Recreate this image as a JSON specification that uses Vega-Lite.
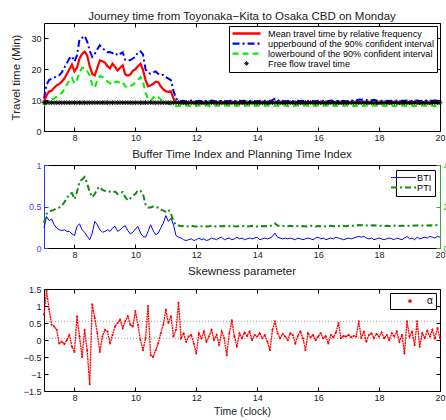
{
  "$schema": "https://vega.github.io/schema/vega-lite/v6.json",
  "padding": {"left": 10, "top": 10, "right": 0, "bottom": 0},
  "spacing": 5,
  "resolve": {"scale": {"color": "independent"}, "legend": {"color": "independent"}},
  "config": {
    "font": "Liberation Sans",
    "view": {"stroke": "#000", "strokeWidth": 1},
    "axis": {"grid": false, "domain": false, "tickColor": "#000", "tickSize": -4, "labelPadding": 7, "labelFontSize": 9, "labelColor": "#222", "titleFontSize": 10.5, "titleFontWeight": "normal", "titleColor": "#222", "labelFlush": false, "labelOverlap": false},
    "title": {"fontSize": 11.5, "fontWeight": "normal", "color": "#222", "offset": 2},
    "legend": {"title": null, "strokeColor": "#000", "fillColor": "#fff", "labelFontSize": 9.1, "labelLimit": 400, "labelColor": "#000", "orient": "top-right"}
  },
  "datasets": {
    "main": [
      {"t":7.000,"mean":9.5,"upper":10.5,"lower":8.3,"free":9.2,"bti":0.24,"pti":1.20,"alpha":0.75},
      {"t":7.083,"mean":11.5,"upper":15.0,"lower":9.0,"free":9.2,"bti":0.38,"pti":1.65,"alpha":1.45},
      {"t":7.167,"mean":12.8,"upper":16.5,"lower":9.8,"free":9.2,"bti":0.33,"pti":1.75,"alpha":0.90},
      {"t":7.250,"mean":13.0,"upper":17.0,"lower":10.2,"free":9.2,"bti":0.35,"pti":1.80,"alpha":0.45},
      {"t":7.333,"mean":14.0,"upper":17.3,"lower":10.5,"free":9.2,"bti":0.28,"pti":1.85,"alpha":0.40},
      {"t":7.417,"mean":14.8,"upper":17.8,"lower":11.2,"free":9.2,"bti":0.24,"pti":1.90,"alpha":0.30},
      {"t":7.500,"mean":15.2,"upper":18.0,"lower":11.8,"free":9.2,"bti":0.22,"pti":1.95,"alpha":-0.10},
      {"t":7.583,"mean":16.0,"upper":19.0,"lower":12.3,"free":9.2,"bti":0.21,"pti":2.05,"alpha":-0.05},
      {"t":7.667,"mean":17.0,"upper":20.5,"lower":13.5,"free":9.2,"bti":0.22,"pti":2.20,"alpha":-0.12},
      {"t":7.750,"mean":18.5,"upper":22.0,"lower":15.0,"free":9.2,"bti":0.20,"pti":2.40,"alpha":0.00},
      {"t":7.833,"mean":20.0,"upper":23.5,"lower":16.5,"free":9.2,"bti":0.20,"pti":2.60,"alpha":0.15},
      {"t":7.917,"mean":21.5,"upper":24.2,"lower":17.2,"free":9.2,"bti":0.17,"pti":2.65,"alpha":-0.20},
      {"t":8.000,"mean":19.3,"upper":22.5,"lower":15.4,"free":9.2,"bti":0.15,"pti":2.35,"alpha":-0.35},
      {"t":8.083,"mean":20.5,"upper":24.5,"lower":16.5,"free":9.2,"bti":0.26,"pti":2.70,"alpha":0.70},
      {"t":8.167,"mean":23.5,"upper":29.8,"lower":19.0,"free":9.2,"bti":0.29,"pti":3.20,"alpha":0.10},
      {"t":8.250,"mean":25.0,"upper":30.2,"lower":20.5,"free":9.2,"bti":0.22,"pti":3.30,"alpha":-0.50},
      {"t":8.333,"mean":25.7,"upper":30.8,"lower":20.3,"free":9.2,"bti":0.19,"pti":3.42,"alpha":0.30},
      {"t":8.417,"mean":24.5,"upper":29.0,"lower":19.5,"free":9.2,"bti":0.14,"pti":3.10,"alpha":-0.30},
      {"t":8.500,"mean":21.0,"upper":26.0,"lower":18.0,"free":9.2,"bti":0.10,"pti":2.70,"alpha":-1.30},
      {"t":8.583,"mean":18.5,"upper":24.0,"lower":15.0,"free":9.2,"bti":0.18,"pti":2.45,"alpha":1.05},
      {"t":8.667,"mean":18.0,"upper":25.0,"lower":14.0,"free":9.2,"bti":0.32,"pti":2.60,"alpha":0.65},
      {"t":8.750,"mean":20.5,"upper":26.5,"lower":16.5,"free":9.2,"bti":0.28,"pti":2.85,"alpha":0.20},
      {"t":8.833,"mean":22.9,"upper":27.8,"lower":17.8,"free":9.2,"bti":0.22,"pti":2.95,"alpha":-0.35},
      {"t":8.917,"mean":22.6,"upper":26.8,"lower":17.5,"free":9.2,"bti":0.19,"pti":2.80,"alpha":0.10},
      {"t":9.000,"mean":22.2,"upper":26.2,"lower":17.0,"free":9.2,"bti":0.20,"pti":2.75,"alpha":0.30},
      {"t":9.083,"mean":21.0,"upper":25.5,"lower":16.0,"free":9.2,"bti":0.22,"pti":2.70,"alpha":0.25},
      {"t":9.167,"mean":20.3,"upper":25.6,"lower":15.5,"free":9.2,"bti":0.20,"pti":2.72,"alpha":-0.10},
      {"t":9.250,"mean":21.8,"upper":25.2,"lower":15.0,"free":9.2,"bti":0.24,"pti":2.68,"alpha":0.15},
      {"t":9.333,"mean":20.8,"upper":25.4,"lower":15.8,"free":9.2,"bti":0.26,"pti":2.72,"alpha":0.40},
      {"t":9.417,"mean":19.6,"upper":24.5,"lower":16.0,"free":9.2,"bti":0.20,"pti":2.60,"alpha":0.50},
      {"t":9.500,"mean":20.5,"upper":25.0,"lower":15.5,"free":9.2,"bti":0.22,"pti":2.65,"alpha":0.60},
      {"t":9.583,"mean":21.3,"upper":25.5,"lower":15.8,"free":9.2,"bti":0.25,"pti":2.70,"alpha":0.35},
      {"t":9.667,"mean":18.3,"upper":23.0,"lower":14.5,"free":9.2,"bti":0.27,"pti":2.45,"alpha":0.55},
      {"t":9.750,"mean":18.0,"upper":22.8,"lower":14.0,"free":9.2,"bti":0.21,"pti":2.30,"alpha":0.70},
      {"t":9.833,"mean":18.3,"upper":23.0,"lower":14.5,"free":9.2,"bti":0.17,"pti":2.40,"alpha":0.45},
      {"t":9.917,"mean":19.5,"upper":23.5,"lower":15.0,"free":9.2,"bti":0.19,"pti":2.50,"alpha":0.40},
      {"t":10.000,"mean":20.0,"upper":24.0,"lower":15.8,"free":9.2,"bti":0.23,"pti":2.60,"alpha":0.85},
      {"t":10.083,"mean":21.0,"upper":25.6,"lower":16.5,"free":9.2,"bti":0.26,"pti":2.78,"alpha":0.45},
      {"t":10.167,"mean":21.8,"upper":25.8,"lower":17.5,"free":9.2,"bti":0.18,"pti":2.75,"alpha":0.00},
      {"t":10.250,"mean":19.8,"upper":24.8,"lower":16.0,"free":9.2,"bti":0.14,"pti":2.60,"alpha":-0.30},
      {"t":10.333,"mean":16.5,"upper":20.0,"lower":12.3,"free":9.2,"bti":0.13,"pti":2.10,"alpha":0.05},
      {"t":10.417,"mean":14.5,"upper":18.8,"lower":10.5,"free":9.2,"bti":0.20,"pti":1.95,"alpha":1.00},
      {"t":10.500,"mean":14.8,"upper":18.6,"lower":9.8,"free":9.2,"bti":0.28,"pti":1.95,"alpha":-0.45},
      {"t":10.583,"mean":15.2,"upper":19.0,"lower":10.8,"free":9.2,"bti":0.21,"pti":2.00,"alpha":-0.50},
      {"t":10.667,"mean":16.0,"upper":19.3,"lower":11.5,"free":9.2,"bti":0.16,"pti":1.95,"alpha":-0.30},
      {"t":10.750,"mean":15.8,"upper":18.5,"lower":11.0,"free":9.2,"bti":0.18,"pti":1.95,"alpha":-0.10},
      {"t":10.833,"mean":14.5,"upper":18.0,"lower":10.2,"free":9.2,"bti":0.24,"pti":1.85,"alpha":0.20},
      {"t":10.917,"mean":13.5,"upper":18.2,"lower":9.8,"free":9.2,"bti":0.30,"pti":1.80,"alpha":0.45},
      {"t":11.000,"mean":12.9,"upper":17.5,"lower":9.2,"free":9.2,"bti":0.39,"pti":1.75,"alpha":0.90},
      {"t":11.083,"mean":12.7,"upper":17.0,"lower":8.8,"free":9.2,"bti":0.32,"pti":1.85,"alpha":0.50},
      {"t":11.167,"mean":12.9,"upper":16.5,"lower":8.6,"free":9.2,"bti":0.36,"pti":1.65,"alpha":0.70},
      {"t":11.250,"mean":10.5,"upper":13.0,"lower":8.3,"free":9.2,"bti":0.28,"pti":1.30,"alpha":0.10},
      {"t":11.333,"mean":9.2,"upper":10.5,"lower":8.0,"free":9.2,"bti":0.15,"pti":1.10,"alpha":0.30},
      {"t":11.417,"mean":9.1,"upper":9.9,"lower":8.1,"free":9.2,"bti":0.13,"pti":1.08,"alpha":1.10},
      {"t":11.500,"mean":9.0,"upper":9.7,"lower":8.2,"free":9.2,"bti":0.12,"pti":1.05,"alpha":0.05},
      {"t":11.583,"mean":9.1,"upper":9.8,"lower":8.1,"free":9.2,"bti":0.10,"pti":1.06,"alpha":0.20},
      {"t":11.667,"mean":8.9,"upper":9.6,"lower":8.3,"free":9.2,"bti":0.09,"pti":1.04,"alpha":-0.05},
      {"t":11.750,"mean":9.0,"upper":9.7,"lower":8.2,"free":9.2,"bti":0.10,"pti":1.05,"alpha":0.10},
      {"t":11.833,"mean":9.2,"upper":9.9,"lower":8.0,"free":9.2,"bti":0.11,"pti":1.07,"alpha":0.15},
      {"t":11.917,"mean":9.0,"upper":9.7,"lower":8.2,"free":9.2,"bti":0.09,"pti":1.05,"alpha":-0.10},
      {"t":12.000,"mean":8.9,"upper":9.6,"lower":8.1,"free":9.2,"bti":0.10,"pti":1.04,"alpha":-0.40},
      {"t":12.083,"mean":9.1,"upper":9.8,"lower":8.3,"free":9.2,"bti":0.12,"pti":1.06,"alpha":0.20},
      {"t":12.167,"mean":9.0,"upper":9.7,"lower":8.2,"free":9.2,"bti":0.10,"pti":1.05,"alpha":0.05},
      {"t":12.250,"mean":9.1,"upper":9.8,"lower":8.1,"free":9.2,"bti":0.11,"pti":1.06,"alpha":0.25},
      {"t":12.333,"mean":8.9,"upper":9.6,"lower":8.3,"free":9.2,"bti":0.09,"pti":1.04,"alpha":-0.05},
      {"t":12.417,"mean":9.0,"upper":9.7,"lower":8.2,"free":9.2,"bti":0.10,"pti":1.05,"alpha":0.10},
      {"t":12.500,"mean":9.2,"upper":9.9,"lower":8.0,"free":9.2,"bti":0.12,"pti":1.07,"alpha":0.30},
      {"t":12.583,"mean":9.0,"upper":9.7,"lower":8.2,"free":9.2,"bti":0.11,"pti":1.05,"alpha":0.00},
      {"t":12.667,"mean":8.9,"upper":9.6,"lower":8.1,"free":9.2,"bti":0.10,"pti":1.04,"alpha":0.15},
      {"t":12.750,"mean":9.1,"upper":9.8,"lower":8.3,"free":9.2,"bti":0.12,"pti":1.06,"alpha":-0.15},
      {"t":12.833,"mean":9.0,"upper":9.7,"lower":8.2,"free":9.2,"bti":0.13,"pti":1.05,"alpha":0.25},
      {"t":12.917,"mean":9.1,"upper":9.8,"lower":8.1,"free":9.2,"bti":0.10,"pti":1.06,"alpha":0.05},
      {"t":13.000,"mean":8.9,"upper":9.6,"lower":8.3,"free":9.2,"bti":0.11,"pti":1.04,"alpha":-0.45},
      {"t":13.083,"mean":9.0,"upper":9.7,"lower":8.2,"free":9.2,"bti":0.12,"pti":1.05,"alpha":0.20},
      {"t":13.167,"mean":9.2,"upper":9.9,"lower":8.0,"free":9.2,"bti":0.10,"pti":1.07,"alpha":0.58},
      {"t":13.250,"mean":9.0,"upper":9.7,"lower":8.2,"free":9.2,"bti":0.11,"pti":1.05,"alpha":0.10},
      {"t":13.333,"mean":8.9,"upper":9.6,"lower":8.1,"free":9.2,"bti":0.13,"pti":1.04,"alpha":-0.20},
      {"t":13.417,"mean":9.1,"upper":9.8,"lower":8.3,"free":9.2,"bti":0.11,"pti":1.06,"alpha":0.20},
      {"t":13.500,"mean":9.0,"upper":9.7,"lower":8.2,"free":9.2,"bti":0.12,"pti":1.05,"alpha":0.05},
      {"t":13.583,"mean":9.1,"upper":9.8,"lower":8.1,"free":9.2,"bti":0.10,"pti":1.06,"alpha":0.22},
      {"t":13.667,"mean":8.9,"upper":9.6,"lower":8.3,"free":9.2,"bti":0.11,"pti":1.04,"alpha":0.12},
      {"t":13.750,"mean":9.0,"upper":9.7,"lower":8.2,"free":9.2,"bti":0.12,"pti":1.05,"alpha":0.25},
      {"t":13.833,"mean":9.2,"upper":9.9,"lower":8.0,"free":9.2,"bti":0.11,"pti":1.07,"alpha":0.00},
      {"t":13.917,"mean":9.0,"upper":9.7,"lower":8.2,"free":9.2,"bti":0.12,"pti":1.05,"alpha":0.15},
      {"t":14.000,"mean":8.9,"upper":9.6,"lower":8.1,"free":9.2,"bti":0.13,"pti":1.04,"alpha":0.10},
      {"t":14.083,"mean":9.1,"upper":9.8,"lower":8.3,"free":9.2,"bti":0.10,"pti":1.06,"alpha":0.20},
      {"t":14.167,"mean":9.0,"upper":9.7,"lower":8.2,"free":9.2,"bti":0.11,"pti":1.05,"alpha":0.05},
      {"t":14.250,"mean":9.1,"upper":9.8,"lower":8.1,"free":9.2,"bti":0.12,"pti":1.06,"alpha":0.15},
      {"t":14.333,"mean":8.9,"upper":9.6,"lower":8.3,"free":9.2,"bti":0.11,"pti":1.04,"alpha":-0.05},
      {"t":14.417,"mean":9.0,"upper":9.8,"lower":8.2,"free":9.2,"bti":0.12,"pti":1.06,"alpha":-0.30},
      {"t":14.500,"mean":9.2,"upper":10.0,"lower":8.1,"free":9.2,"bti":0.14,"pti":1.10,"alpha":0.30},
      {"t":14.583,"mean":9.3,"upper":10.5,"lower":8.2,"free":9.2,"bti":0.18,"pti":1.18,"alpha":0.55},
      {"t":14.667,"mean":9.1,"upper":10.0,"lower":8.2,"free":9.2,"bti":0.13,"pti":1.08,"alpha":0.20},
      {"t":14.750,"mean":9.0,"upper":9.7,"lower":8.1,"free":9.2,"bti":0.12,"pti":1.05,"alpha":0.05},
      {"t":14.833,"mean":9.1,"upper":9.8,"lower":8.3,"free":9.2,"bti":0.11,"pti":1.06,"alpha":0.18},
      {"t":14.917,"mean":8.9,"upper":9.6,"lower":8.2,"free":9.2,"bti":0.12,"pti":1.04,"alpha":0.10},
      {"t":15.000,"mean":9.0,"upper":9.7,"lower":8.1,"free":9.2,"bti":0.11,"pti":1.05,"alpha":0.00},
      {"t":15.083,"mean":9.2,"upper":9.9,"lower":8.0,"free":9.2,"bti":0.12,"pti":1.07,"alpha":0.20},
      {"t":15.167,"mean":9.0,"upper":9.7,"lower":8.2,"free":9.2,"bti":0.11,"pti":1.05,"alpha":0.15},
      {"t":15.250,"mean":8.9,"upper":9.6,"lower":8.1,"free":9.2,"bti":0.10,"pti":1.04,"alpha":-0.10},
      {"t":15.333,"mean":9.1,"upper":9.8,"lower":8.3,"free":9.2,"bti":0.12,"pti":1.06,"alpha":0.12},
      {"t":15.417,"mean":9.0,"upper":9.7,"lower":8.2,"free":9.2,"bti":0.11,"pti":1.05,"alpha":0.25},
      {"t":15.500,"mean":9.1,"upper":9.8,"lower":8.1,"free":9.2,"bti":0.10,"pti":1.06,"alpha":0.05},
      {"t":15.583,"mean":8.9,"upper":9.6,"lower":8.3,"free":9.2,"bti":0.11,"pti":1.04,"alpha":-0.30},
      {"t":15.667,"mean":9.0,"upper":9.7,"lower":8.2,"free":9.2,"bti":0.12,"pti":1.05,"alpha":0.20},
      {"t":15.750,"mean":9.2,"upper":9.9,"lower":8.0,"free":9.2,"bti":0.11,"pti":1.07,"alpha":0.08},
      {"t":15.833,"mean":9.0,"upper":9.7,"lower":8.2,"free":9.2,"bti":0.10,"pti":1.05,"alpha":0.15},
      {"t":15.917,"mean":8.9,"upper":9.6,"lower":8.1,"free":9.2,"bti":0.12,"pti":1.04,"alpha":0.00},
      {"t":16.000,"mean":9.1,"upper":9.8,"lower":8.3,"free":9.2,"bti":0.13,"pti":1.06,"alpha":0.10},
      {"t":16.083,"mean":9.0,"upper":9.7,"lower":8.2,"free":9.2,"bti":0.11,"pti":1.05,"alpha":0.20},
      {"t":16.167,"mean":9.1,"upper":9.8,"lower":8.1,"free":9.2,"bti":0.12,"pti":1.06,"alpha":0.05},
      {"t":16.250,"mean":8.9,"upper":9.6,"lower":8.3,"free":9.2,"bti":0.10,"pti":1.04,"alpha":0.12},
      {"t":16.333,"mean":9.0,"upper":9.7,"lower":8.2,"free":9.2,"bti":0.11,"pti":1.05,"alpha":-0.10},
      {"t":16.417,"mean":9.2,"upper":9.9,"lower":8.0,"free":9.2,"bti":0.12,"pti":1.07,"alpha":0.15},
      {"t":16.500,"mean":9.0,"upper":9.7,"lower":8.2,"free":9.2,"bti":0.11,"pti":1.05,"alpha":0.08},
      {"t":16.583,"mean":8.9,"upper":9.6,"lower":8.1,"free":9.2,"bti":0.13,"pti":1.04,"alpha":0.22},
      {"t":16.667,"mean":9.1,"upper":9.8,"lower":8.3,"free":9.2,"bti":0.12,"pti":1.06,"alpha":0.50},
      {"t":16.750,"mean":9.0,"upper":9.7,"lower":8.2,"free":9.2,"bti":0.11,"pti":1.05,"alpha":0.05},
      {"t":16.833,"mean":9.1,"upper":9.8,"lower":8.1,"free":9.2,"bti":0.10,"pti":1.06,"alpha":0.12},
      {"t":16.917,"mean":8.9,"upper":9.6,"lower":8.3,"free":9.2,"bti":0.11,"pti":1.05,"alpha":0.10},
      {"t":17.000,"mean":9.0,"upper":9.8,"lower":8.2,"free":9.2,"bti":0.12,"pti":1.07,"alpha":0.15},
      {"t":17.083,"mean":9.2,"upper":9.9,"lower":8.0,"free":9.2,"bti":0.11,"pti":1.08,"alpha":0.08},
      {"t":17.167,"mean":9.0,"upper":9.8,"lower":8.2,"free":9.2,"bti":0.12,"pti":1.07,"alpha":0.12},
      {"t":17.250,"mean":9.1,"upper":9.9,"lower":8.1,"free":9.2,"bti":0.13,"pti":1.08,"alpha":0.10},
      {"t":17.333,"mean":9.2,"upper":10.2,"lower":8.3,"free":9.2,"bti":0.14,"pti":1.11,"alpha":0.55},
      {"t":17.417,"mean":9.1,"upper":10.1,"lower":8.2,"free":9.2,"bti":0.13,"pti":1.10,"alpha":0.05},
      {"t":17.500,"mean":9.2,"upper":10.3,"lower":8.1,"free":9.2,"bti":0.14,"pti":1.12,"alpha":0.25},
      {"t":17.583,"mean":9.0,"upper":10.0,"lower":8.3,"free":9.2,"bti":0.12,"pti":1.09,"alpha":-0.05},
      {"t":17.667,"mean":9.1,"upper":10.1,"lower":8.2,"free":9.2,"bti":0.11,"pti":1.10,"alpha":0.15},
      {"t":17.750,"mean":9.0,"upper":10.0,"lower":8.1,"free":9.2,"bti":0.12,"pti":1.09,"alpha":0.20},
      {"t":17.833,"mean":9.1,"upper":10.1,"lower":8.3,"free":9.2,"bti":0.10,"pti":1.10,"alpha":0.05},
      {"t":17.917,"mean":8.9,"upper":9.9,"lower":8.2,"free":9.2,"bti":0.11,"pti":1.08,"alpha":0.18},
      {"t":18.000,"mean":9.0,"upper":9.8,"lower":8.1,"free":9.2,"bti":0.12,"pti":1.07,"alpha":0.10},
      {"t":18.083,"mean":9.1,"upper":9.8,"lower":8.3,"free":9.2,"bti":0.11,"pti":1.07,"alpha":0.22},
      {"t":18.167,"mean":9.0,"upper":9.7,"lower":8.2,"free":9.2,"bti":0.10,"pti":1.06,"alpha":0.05},
      {"t":18.250,"mean":9.1,"upper":9.8,"lower":8.1,"free":9.2,"bti":0.11,"pti":1.07,"alpha":0.15},
      {"t":18.333,"mean":8.9,"upper":9.7,"lower":8.3,"free":9.2,"bti":0.12,"pti":1.06,"alpha":0.00},
      {"t":18.417,"mean":9.0,"upper":9.8,"lower":8.2,"free":9.2,"bti":0.11,"pti":1.07,"alpha":0.20},
      {"t":18.500,"mean":9.2,"upper":9.9,"lower":8.0,"free":9.2,"bti":0.10,"pti":1.08,"alpha":0.10},
      {"t":18.583,"mean":9.0,"upper":9.8,"lower":8.2,"free":9.2,"bti":0.12,"pti":1.07,"alpha":0.25},
      {"t":18.667,"mean":8.9,"upper":9.7,"lower":8.1,"free":9.2,"bti":0.11,"pti":1.06,"alpha":-0.05},
      {"t":18.750,"mean":9.1,"upper":9.8,"lower":8.3,"free":9.2,"bti":0.10,"pti":1.07,"alpha":0.15},
      {"t":18.833,"mean":9.0,"upper":9.8,"lower":8.2,"free":9.2,"bti":0.12,"pti":1.07,"alpha":-0.40},
      {"t":18.917,"mean":9.1,"upper":9.9,"lower":8.1,"free":9.2,"bti":0.14,"pti":1.09,"alpha":0.55},
      {"t":19.000,"mean":8.9,"upper":9.7,"lower":8.3,"free":9.2,"bti":0.11,"pti":1.06,"alpha":0.10},
      {"t":19.083,"mean":9.0,"upper":9.8,"lower":8.2,"free":9.2,"bti":0.12,"pti":1.07,"alpha":0.25},
      {"t":19.167,"mean":9.2,"upper":9.9,"lower":8.0,"free":9.2,"bti":0.10,"pti":1.08,"alpha":-0.15},
      {"t":19.250,"mean":9.0,"upper":9.9,"lower":8.2,"free":9.2,"bti":0.13,"pti":1.09,"alpha":0.55},
      {"t":19.333,"mean":8.9,"upper":9.7,"lower":8.1,"free":9.2,"bti":0.11,"pti":1.07,"alpha":-0.20},
      {"t":19.417,"mean":9.1,"upper":9.8,"lower":8.3,"free":9.2,"bti":0.12,"pti":1.08,"alpha":0.20},
      {"t":19.500,"mean":9.0,"upper":9.9,"lower":8.2,"free":9.2,"bti":0.13,"pti":1.09,"alpha":0.05},
      {"t":19.583,"mean":9.1,"upper":9.8,"lower":8.1,"free":9.2,"bti":0.12,"pti":1.08,"alpha":0.28},
      {"t":19.667,"mean":8.9,"upper":9.9,"lower":8.3,"free":9.2,"bti":0.14,"pti":1.10,"alpha":0.10},
      {"t":19.750,"mean":9.0,"upper":9.8,"lower":8.2,"free":9.2,"bti":0.13,"pti":1.09,"alpha":0.30},
      {"t":19.833,"mean":9.2,"upper":9.9,"lower":8.0,"free":9.2,"bti":0.12,"pti":1.10,"alpha":0.05},
      {"t":19.917,"mean":9.0,"upper":9.9,"lower":8.2,"free":9.2,"bti":0.14,"pti":1.11,"alpha":0.35},
      {"t":20.000,"mean":9.1,"upper":9.8,"lower":8.1,"free":9.2,"bti":0.13,"pti":1.10,"alpha":0.05}
    ]
  },
  "vconcat": [
    {
      "width": 396,
      "height": 108,
      "title": {"text": "Journey time from Toyonaka\u2212Kita to Osaka CBD on Monday", "offset": 0},
      "data": {"name": "main"},
      "resolve": {"axis": {"x": "independent", "y": "independent"}},
      "layer": [
        {
          "mark": {"type": "line", "strokeWidth": 2, "strokeDash": [7, 3, 2, 3]},
          "encoding": {
            "x": {"field": "t", "type": "quantitative", "scale": {"domain": [7, 20], "nice": false, "zero": false}, "axis": {"values": [8, 10, 12, 14, 16, 18, 20], "title": null, "labelPadding": 6}},
            "y": {"field": "upper", "type": "quantitative", "scale": {"domain": [0, 35], "nice": false}, "axis": {"values": [0, 10, 20, 30], "title": "Travel time (Min)", "titlePadding": 9, "titleFontSize": 11.5}},
            "color": {
              "datum": "upperbound of the 90% confident interval",
              "scale": {"domain": ["Mean travel time by relative frequency", "upperbound of the 90% confident interval", "lowerbound of the 90% confident interval", "Free flow travel time"], "range": ["#ff0000", "#0000ff", "#00ee00", "#000000"]},
              "legend": {
                "offset": 3,
                "padding": 3,
                "symbolSize": 784,
                "symbolStrokeWidth": 2.2,
                "symbolOffset": 10,
                "rowPadding": -10.8,
                "labelOffset": 17,
                "encode": {
                  "symbols": {
                    "update": {
                      "shape": {"signal": "datum.value === 'Free flow travel time' ? 'M-1,0L1,0M0,-1L0,1M-0.7,-0.7L0.7,0.7M-0.7,0.7L0.7,-0.7' : 'stroke'"},
                      "size": {"signal": "datum.value === 'Free flow travel time' ? 20 : 784"},
                      "strokeWidth": {"signal": "datum.value === 'Free flow travel time' ? 1 : datum.value === 'Mean travel time by relative frequency' ? 2.6 : 2.2"},
                      "strokeDash": {"signal": "datum.value === 'upperbound of the 90% confident interval' ? [7,3,2,3] : datum.value === 'lowerbound of the 90% confident interval' ? [6,4] : [1,0]"}
                    }
                  }
                }
              }
            }
          }
        },
        {
          "mark": {"type": "line", "strokeWidth": 2, "strokeDash": [6, 4]},
          "encoding": {
            "x": {"field": "t", "type": "quantitative", "axis": null},
            "y": {"field": "lower", "type": "quantitative", "axis": null},
            "color": {"datum": "lowerbound of the 90% confident interval"}
          }
        },
        {
          "mark": {"type": "line", "strokeWidth": 2.2},
          "encoding": {
            "x": {"field": "t", "type": "quantitative", "axis": null},
            "y": {"field": "mean", "type": "quantitative", "axis": null},
            "color": {"datum": "Mean travel time by relative frequency"}
          }
        },
        {
          "mark": {"type": "point", "shape": "M-1,0L1,0M0,-1L0,1M-0.7,-0.7L0.7,0.7M-0.7,0.7L0.7,-0.7", "size": 22, "filled": false, "strokeWidth": 0.9, "opacity": 1},
          "encoding": {
            "x": {"field": "t", "type": "quantitative", "axis": {"orient": "top", "labels": false, "title": null, "values": [8, 10, 12, 14, 16, 18, 20]}},
            "y": {"field": "free", "type": "quantitative", "axis": {"orient": "right", "labels": false, "title": null, "values": [0, 10, 20, 30]}},
            "color": {"datum": "Free flow travel time"}
          }
        }
      ]
    },
    {
      "width": 396,
      "height": 83,
      "title": {"text": "Buffer Time Index and Planning Time Index", "offset": 1},
      "data": {"name": "main"},
      "resolve": {"scale": {"y": "independent"}, "axis": {"x": "independent", "y": "independent"}},
      "layer": [
        {
          "mark": {"type": "line", "strokeWidth": 1},
          "encoding": {
            "x": {"field": "t", "type": "quantitative", "scale": {"domain": [7, 20], "nice": false, "zero": false}, "axis": {"values": [8, 10, 12, 14, 16, 18, 20], "title": null, "labelPadding": 6}},
            "y": {"field": "bti", "type": "quantitative", "scale": {"domain": [0, 1], "nice": false}, "axis": {"values": [0, 0.5, 1], "format": "~g", "title": null, "domain": true, "domainColor": "#3333ff", "labelColor": "#4444ff", "tickColor": "#3333ff"}},
            "color": {
              "datum": "BTI",
              "scale": {"domain": ["BTI", "PTI"], "range": ["#0000ff", "#108a10"]},
              "legend": {
                "offset": 5,
                "padding": 3,
                "symbolSize": 625,
                "symbolStrokeWidth": 1.5,
                "rowPadding": -12,
                "labelOffset": 9,
                "encode": {
                  "symbols": {
                    "update": {
                      "shape": {"value": "stroke"},
                      "strokeWidth": {"signal": "datum.value === 'PTI' ? 2 : 1"},
                      "strokeDash": {"signal": "datum.value === 'PTI' ? [6,3,2,3] : [1,0]"}
                    }
                  }
                }
              }
            }
          }
        },
        {
          "mark": {"type": "line", "strokeWidth": 2, "strokeDash": [6, 3, 2, 3]},
          "encoding": {
            "x": {"field": "t", "type": "quantitative", "axis": {"orient": "top", "labels": false, "title": null, "values": [8, 10, 12, 14, 16, 18, 20]}},
            "y": {"field": "pti", "type": "quantitative", "scale": {"domain": [0, 4], "nice": false}, "axis": {"orient": "right", "values": [0, 2, 4], "title": null, "domain": true, "domainColor": "#33aa33", "labelColor": "#33aa33", "tickColor": "#33aa33"}},
            "color": {"datum": "PTI"}
          }
        }
      ]
    },
    {
      "width": 396,
      "height": 102,
      "title": {"text": "Skewness parameter", "offset": 8},
      "resolve": {"axis": {"x": "independent", "y": "independent"}},
      "layer": [
        {
          "data": {"values": [{"ref": 0.55}, {"ref": 0.05}]},
          "mark": {"type": "rule", "color": "#888", "strokeWidth": 0.8, "strokeDash": [1, 2]},
          "encoding": {
            "y": {"field": "ref", "type": "quantitative", "axis": null}
          }
        },
        {
          "data": {"name": "main"},
          "mark": {"type": "line", "strokeWidth": 1.3, "strokeDash": [2, 0.6]},
          "encoding": {
            "x": {"field": "t", "type": "quantitative", "scale": {"domain": [7, 20], "nice": false, "zero": false}, "axis": {"values": [8, 10, 12, 14, 16, 18, 20], "title": "Time (clock)", "titlePadding": 4, "labelPadding": 6}},
            "y": {"field": "alpha", "type": "quantitative", "scale": {"domain": [-1.5, 1.5], "nice": false, "zero": false}, "axis": {"values": [-1.5, -1, -0.5, 0, 0.5, 1, 1.5], "format": "~g", "title": null}},
            "color": {
              "datum": "\u03b1",
              "scale": {"domain": ["\u03b1"], "range": ["#ff0000"]},
              "legend": {"offset": 4, "padding": 3, "symbolType": "circle", "symbolSize": 5, "symbolOffset": 12, "labelOffset": 12, "labelFontSize": 10}
            }
          }
        },
        {
          "data": {"name": "main"},
          "mark": {"type": "point", "filled": true, "size": 4, "opacity": 1},
          "encoding": {
            "x": {"field": "t", "type": "quantitative", "axis": {"orient": "top", "labels": false, "title": null, "values": [8, 10, 12, 14, 16, 18, 20]}},
            "y": {"field": "alpha", "type": "quantitative", "axis": {"orient": "right", "labels": false, "title": null, "values": [-1.5, -1, -0.5, 0, 0.5, 1, 1.5]}},
            "color": {"datum": "\u03b1"}
          }
        }
      ]
    }
  ]
}
